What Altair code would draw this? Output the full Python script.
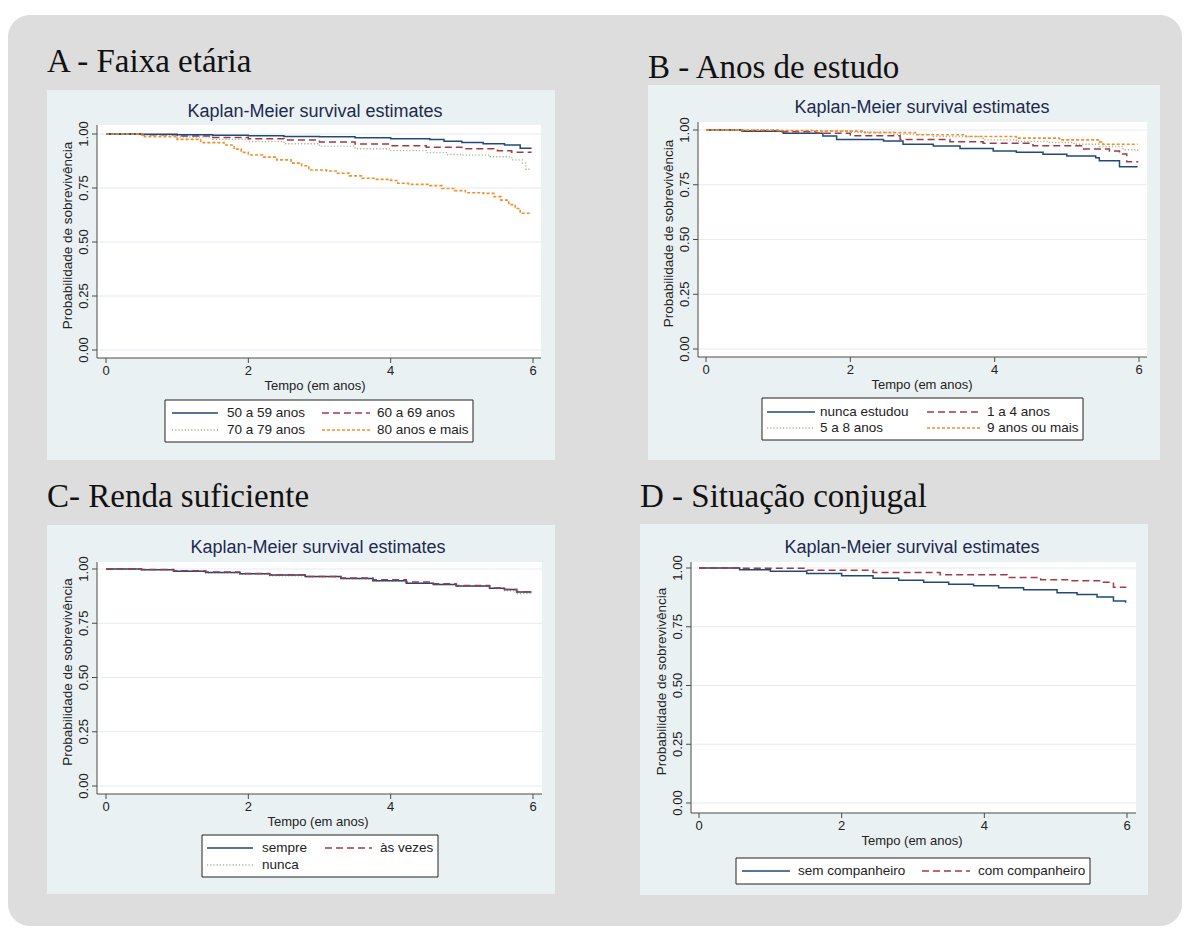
import altair as alt
import pandas as pd

# ---------------------------------------------------------------------------
# Kaplan-Meier survival estimates (time in years, survival probability)
# ---------------------------------------------------------------------------

# A - Faixa etária
a_labels = ["50 a 59 anos", "60 a 69 anos", "70 a 79 anos", "80 anos e mais"]
a50_t = [0, 0.5, 1.0, 1.5, 2.0, 2.5, 3.0, 3.5, 4.0, 4.55, 4.75, 5.0, 5.3, 5.6, 5.82, 5.98]
a50_s = [1.0, 0.999, 0.997, 0.994, 0.992, 0.989, 0.987, 0.983, 0.978, 0.975, 0.966, 0.961, 0.955, 0.949, 0.934, 0.934]
a60_t = [0, 0.5, 1.0, 1.5, 2.0, 2.5, 3.0, 3.5, 4.0, 4.5, 5.0, 5.5, 5.7, 5.98]
a60_s = [1.0, 0.997, 0.991, 0.984, 0.978, 0.972, 0.963, 0.954, 0.946, 0.939, 0.932, 0.922, 0.915, 0.915]
a70_t = [0, 0.5, 1.0, 1.5, 2.0, 2.5, 3.0, 3.5, 4.0, 4.5, 4.8, 5.0, 5.4, 5.7, 5.85, 5.9, 5.98]
a70_s = [1.0, 0.995, 0.986, 0.975, 0.965, 0.955, 0.944, 0.932, 0.923, 0.914, 0.905, 0.902, 0.895, 0.88, 0.865, 0.837, 0.837]
a80_t = [0, 0.54, 1.0, 1.33, 1.66, 1.8, 1.9, 2.0, 2.2, 2.4, 2.6, 2.75, 2.85, 3.1, 3.25, 3.42,
         3.6, 3.8, 4.0, 4.1, 4.25, 4.55, 4.72, 4.9, 5.05, 5.3, 5.45, 5.55, 5.66, 5.75, 5.82, 5.98]
a80_s = [1.0, 0.988, 0.975, 0.96, 0.949, 0.93, 0.915, 0.903, 0.893, 0.88, 0.865, 0.853, 0.833, 0.829, 0.818, 0.806,
         0.795, 0.79, 0.785, 0.772, 0.767, 0.761, 0.748, 0.738, 0.728, 0.725, 0.71, 0.694, 0.673, 0.655, 0.633, 0.633]

# B - Anos de estudo
b_labels = ["nunca estudou", "1 a 4 anos", "5 a 8 anos", "9 anos ou mais"]
b0_t = [0, 0.5, 1.07, 1.62, 1.81, 2.46, 2.73, 3.15, 3.52, 3.98, 4.3, 4.67, 5.0, 5.4, 5.45, 5.73, 5.98]
b0_s = [1.0, 0.994, 0.985, 0.973, 0.957, 0.95, 0.935, 0.927, 0.916, 0.904, 0.898, 0.889, 0.881, 0.873, 0.86, 0.832, 0.832]
b1_t = [0, 0.5, 1.0, 1.53, 2.0, 2.69, 3.38, 3.84, 4.53, 5.22, 5.59, 5.73, 5.83, 5.98]
b1_s = [1.0, 0.997, 0.992, 0.985, 0.974, 0.957, 0.946, 0.939, 0.928, 0.913, 0.904, 0.89, 0.855, 0.852]
b5_t = [0, 1.0, 2.0, 2.6, 3.15, 3.84, 4.3, 4.76, 5.1, 5.45, 5.78, 5.98]
b5_s = [1.0, 0.996, 0.99, 0.98, 0.97, 0.955, 0.948, 0.943, 0.935, 0.925, 0.91, 0.905]
b9_t = [0, 1.0, 1.53, 2.2, 2.92, 3.6, 4.3, 4.9, 5.45, 5.5, 5.98]
b9_s = [1.0, 0.998, 0.995, 0.988, 0.978, 0.97, 0.963, 0.955, 0.946, 0.935, 0.935]

# C - Renda suficiente
c_labels = ["sempre", "às vezes", "nunca"]
c_t = [0, 0.5, 0.95, 1.4, 1.88, 2.3, 2.8, 3.3, 3.75, 4.22, 4.6, 4.92, 5.39, 5.6, 5.77, 5.98]
c_sempre_s = [1.0, 0.997, 0.99, 0.984, 0.978, 0.972, 0.965, 0.956, 0.946, 0.934, 0.929, 0.922, 0.911, 0.906, 0.894, 0.894]
c_vezes_s = [1.0, 0.998, 0.992, 0.986, 0.979, 0.974, 0.966, 0.959, 0.95, 0.94, 0.932, 0.924, 0.912, 0.905, 0.895, 0.895]
c_nunca_s = [1.0, 0.997, 0.99, 0.983, 0.977, 0.969, 0.963, 0.955, 0.945, 0.935, 0.928, 0.92, 0.91, 0.9, 0.887, 0.887]

# D - Situação conjugal
d_labels = ["sem companheiro", "com companheiro"]
d_sem_t = [0, 0.57, 1.0, 1.51, 2.0, 2.44, 2.8, 3.15, 3.5, 3.85, 4.2, 4.55, 5.02, 5.3, 5.58, 5.81, 5.98]
d_sem_s = [1.0, 0.993, 0.986, 0.977, 0.967, 0.956, 0.948, 0.939, 0.931, 0.924, 0.916, 0.907, 0.895, 0.887, 0.877, 0.86, 0.852]
d_com_t = [0, 0.57, 1.51, 2.44, 3.38, 4.32, 4.79, 5.2, 5.63, 5.81, 5.98]
d_com_s = [1.0, 0.999, 0.99, 0.981, 0.971, 0.96, 0.95, 0.946, 0.939, 0.918, 0.915]

x_ticks = [0, 2, 4, 6]
x_tick_labels = ["0", "2", "4", "6"]
y_ticks = [0.0, 0.25, 0.5, 0.75, 1.0]
y_tick_labels = ["0.00", "0.25", "0.50", "0.75", "1.00"]

# ---------------------------------------------------------------------------
# Styling
# ---------------------------------------------------------------------------
SANS = "Liberation Sans, Arial, sans-serif"
SERIF = "Liberation Serif, Times New Roman, serif"
OUTER = "#dddddd"
REGION = "#eaf1f3"
GRID = "#e4ecef"
AXIS = "#4a4a4a"
TITLE = "#1c2a4f"

NAVY = "#1f4a78"
MAROON = "#a03a45"
GREEN = "#a3b692"
ORANGE = "#f0902a"

STYLES = {
    "solid": dict(color=NAVY, dash=[1, 0], width=1.5),
    "dash": dict(color=MAROON, dash=[7, 4], width=1.5),
    "dot": dict(color=GREEN, dash=[1.2, 2], width=1.4),
    "short": dict(color=ORANGE, dash=[3, 2], width=1.6),
}

one = pd.DataFrame({"k": [0]})


def box(x1, x2, y1, y2, fill, stroke=None, radius=0):
    kw = dict(fill=fill, cornerRadius=radius)
    if stroke:
        kw.update(stroke=stroke, strokeWidth=1)
    return alt.Chart(one).mark_rect(**kw).encode(
        x=alt.value(x1), x2=alt.value(x2), y=alt.value(y1), y2=alt.value(y2)
    )


def label(txt, x, y, size=13, font=SANS, color="#222222", align="center", angle=0, baseline="middle"):
    return alt.Chart(one).mark_text(
        text=txt, font=font, fontSize=size, color=color, align=align,
        baseline=baseline, angle=angle
    ).encode(x=alt.value(x), y=alt.value(y))


def sample(x1, x2, y, style):
    st = STYLES[style]
    return alt.Chart(one).mark_rule(
        color=st["color"], strokeDash=st["dash"], strokeWidth=st["width"]
    ).encode(x=alt.value(x1), x2=alt.value(x2), y=alt.value(y))


def panel(g, series, legend_rows):
    xs = alt.Scale(domain=[0, 6], range=[g["x0"], g["x6"]], nice=False, zero=False)
    ys = alt.Scale(domain=[0, 1], range=[g["y0"], g["y1"]], nice=False, zero=False)
    yt = pd.DataFrame({"v": y_ticks, "lab": y_tick_labels})
    xt = pd.DataFrame({"v": x_ticks, "lab": x_tick_labels})
    L, R, T, B = g["left"], g["right"], g["top"], g["bottom"]

    layers = [
        box(g["bx1"], g["bx2"], g["by1"], g["by2"], REGION),
        box(L, R, T, B, "white"),
        alt.Chart(yt).mark_rule(color=GRID, strokeWidth=1.2).encode(
            y=alt.Y("v:Q", scale=ys, axis=None), x=alt.value(L), x2=alt.value(R)),
    ]
    for name, t, s, style in series:
        st = STYLES[style]
        df = pd.DataFrame({"t": t, "s": s, "grupo": name})
        layers.append(
            alt.Chart(df).mark_line(
                interpolate="step-after", color=st["color"],
                strokeDash=st["dash"], strokeWidth=st["width"]
            ).encode(
                x=alt.X("t:Q", scale=xs, axis=None),
                y=alt.Y("s:Q", scale=ys, axis=None),
            )
        )
    # axes
    layers += [
        alt.Chart(one).mark_rule(color=AXIS, strokeWidth=1).encode(
            x=alt.value(L), y=alt.value(T), y2=alt.value(B)),
        alt.Chart(one).mark_rule(color=AXIS, strokeWidth=1).encode(
            x=alt.value(L), x2=alt.value(R), y=alt.value(B)),
        alt.Chart(yt).mark_rule(color=AXIS).encode(
            y=alt.Y("v:Q", scale=ys, axis=None), x=alt.value(L - 5), x2=alt.value(L)),
        alt.Chart(yt).mark_text(font=SANS, fontSize=13, color="#222222", angle=270,
                                align="center", baseline="middle").encode(
            y=alt.Y("v:Q", scale=ys, axis=None), x=alt.value(L - 13), text="lab:N"),
        alt.Chart(xt).mark_rule(color=AXIS).encode(
            x=alt.X("v:Q", scale=xs, axis=None), y=alt.value(B), y2=alt.value(B + 5)),
        alt.Chart(xt).mark_text(font=SANS, fontSize=13, color="#222222",
                                align="center", baseline="middle").encode(
            x=alt.X("v:Q", scale=xs, axis=None), y=alt.value(B + 13), text="lab:N"),
        label("Kaplan-Meier survival estimates", g["kmx"], g["kmy"], size=18, color=TITLE),
        label("Tempo (em anos)", g["kmx"], B + 28, size=13),
        label("Probabilidade de sobrevivência", L - 29, (T + B) / 2 - 6, size=13.5, angle=270),
    ]
    # legend box
    lg = g["leg"]
    layers.append(box(lg["x1"], lg["x2"], lg["y1"], lg["y2"], "white", stroke="#222222"))
    for (row_y, cols) in legend_rows:
        for (lx1, lx2, tx, style, txt) in cols:
            layers.append(sample(lx1, lx2, row_y, style))
            layers.append(label(txt, tx, row_y, size=13.5, align="left"))
    return alt.layer(*layers)


geo_a = dict(bx1=47, bx2=555, by1=90, by2=460, left=97, right=541, top=125, bottom=358,
             x0=106, x6=533, y0=350, y1=134, kmx=315, kmy=112,
             leg=dict(x1=165, x2=473, y1=400, y2=442))
geo_b = dict(bx1=648, bx2=1160, by1=85, by2=460, left=698, right=1147, top=122, bottom=357,
             x0=706, x6=1139, y0=349, y1=130, kmx=922, kmy=108,
             leg=dict(x1=762, x2=1083, y1=398, y2=440))
geo_c = dict(bx1=47, bx2=555, by1=525, by2=894, left=97, right=542, top=562, bottom=794,
             x0=106, x6=533, y0=786, y1=569, kmx=318, kmy=548,
             leg=dict(x1=202, x2=438, y1=835, y2=877))
geo_d = dict(bx1=640, bx2=1148, by1=524, by2=895, left=691, right=1136, top=562, bottom=813,
             x0=699, x6=1127, y0=803, y1=568, kmx=912, kmy=548,
             leg=dict(x1=736, x2=1090, y1=858, y2=884))

panel_a = panel(
    geo_a,
    [(a_labels[2], a70_t, a70_s, "dot"), (a_labels[1], a60_t, a60_s, "dash"),
     (a_labels[0], a50_t, a50_s, "solid"), (a_labels[3], a80_t, a80_s, "short")],
    [(413, [(172, 218, 227, "solid", a_labels[0]), (322, 370, 377, "dash", a_labels[1])]),
     (430, [(172, 218, 227, "dot", a_labels[2]), (322, 370, 377, "short", a_labels[3])])],
)
panel_b = panel(
    geo_b,
    [(b_labels[0], b0_t, b0_s, "solid"), (b_labels[2], b5_t, b5_s, "dot"),
     (b_labels[1], b1_t, b1_s, "dash"), (b_labels[3], b9_t, b9_s, "short")],
    [(412, [(767, 815, 820, "solid", b_labels[0]), (927, 980, 987, "dash", b_labels[1])]),
     (428, [(767, 815, 820, "dot", b_labels[2]), (927, 980, 987, "short", b_labels[3])])],
)
panel_c = panel(
    geo_c,
    [(c_labels[2], c_t, c_nunca_s, "dot"), (c_labels[0], c_t, c_sempre_s, "solid"),
     (c_labels[1], c_t, c_vezes_s, "dash")],
    [(848, [(207, 253, 262, "solid", c_labels[0]), (325, 372, 380, "dash", c_labels[1])]),
     (865, [(207, 253, 262, "dot", c_labels[2])])],
)
panel_d = panel(
    geo_d,
    [(d_labels[0], d_sem_t, d_sem_s, "solid"), (d_labels[1], d_com_t, d_com_s, "dash")],
    [(871, [(742, 790, 798, "solid", d_labels[0]), (922, 970, 978, "dash", d_labels[1])])],
)

chart = alt.layer(
    box(8, 1182, 15, 926, OUTER, radius=22),
    label("A - Faixa etária", 47, 72, size=33, font=SERIF, color="#111111", align="left", baseline="alphabetic"),
    label("B - Anos de estudo", 648, 78, size=33, font=SERIF, color="#111111", align="left", baseline="alphabetic"),
    label("C- Renda suficiente", 47, 507, size=33, font=SERIF, color="#111111", align="left", baseline="alphabetic"),
    label("D - Situação conjugal", 640, 507, size=33, font=SERIF, color="#111111", align="left", baseline="alphabetic"),
    panel_a, panel_b, panel_c, panel_d,
).resolve_scale(
    x="independent", y="independent"
).properties(
    width=1189, height=929, padding=0,
    autosize=alt.AutoSizeParams(type="none"),
    background="white",
).configure_view(strokeWidth=0)

chart.save("out.html", embed_options={"renderer": "svg", "actions": False})
